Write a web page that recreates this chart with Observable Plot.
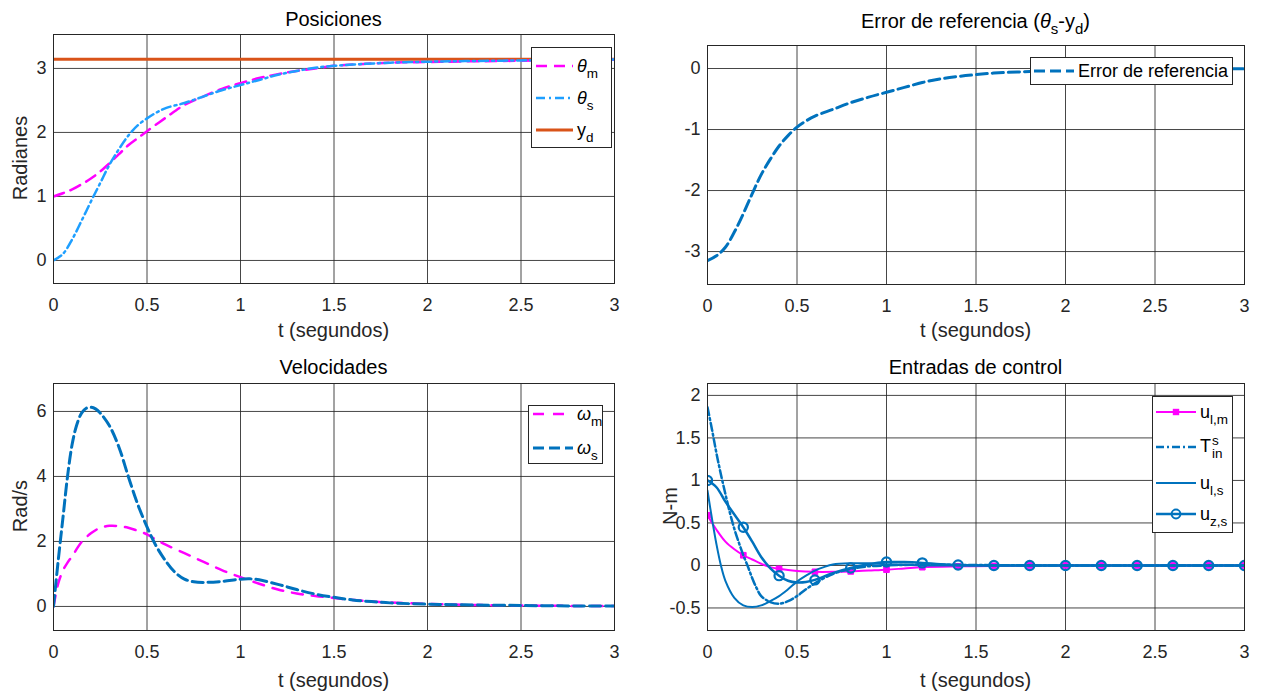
<!DOCTYPE html>
<html>
<head>
<meta charset="utf-8">
<script src="https://cdn.jsdelivr.net/npm/d3@7"></script>
<script src="https://cdn.jsdelivr.net/npm/@observablehq/plot@0.6"></script>
<style>
  html, body { margin: 0; padding: 0; background: #fff; }
  #root { position: relative; width: 1261px; height: 694px; background: #fff;
          font-family: 'Liberation Sans', Arial, Helvetica, sans-serif; color: #262626; overflow: hidden; }
  .abs { position: absolute; white-space: nowrap; }
  .title { font-size: 20px; color: #000; transform: translate(-50%, -50%); }
  .xlab { font-size: 20px; color: #262626; transform: translate(-50%, -50%); }
  .ylab { font-size: 20px; color: #262626; transform: translate(-50%, -50%) rotate(-90deg); }
  .leg { position: absolute; background: #fff; border: 1px solid #262626; box-sizing: border-box; }
  .item { position: absolute; display: flex; align-items: center; font-size: 18px; color: #000; }
  sub { font-size: 75%; vertical-align: -0.45em; line-height: 0; }
  .th { font-style: italic; }
  .stack { display: inline-flex; flex-direction: column; font-size: 75%; line-height: 1; vertical-align: middle; margin-left: 1px; }
</style>
</head>
<body>
<div id="root"></div>
<script>
// ---------- data ----------
const xTicks = [0, 0.5, 1, 1.5, 2, 2.5, 3];

// Posiciones
const tThetaM = [0,0.05,0.1,0.15,0.2,0.25,0.3,0.35,0.4,0.45,0.5,0.6,0.7,0.8,0.9,1.0,1.1,1.2,1.3,1.4,1.5,1.6,1.8,2.0,2.2,2.5,2.8,3.0];
const thetaMVals = [1.00,1.05,1.11,1.19,1.28,1.39,1.52,1.66,1.80,1.91,2.02,2.23,2.43,2.56,2.68,2.77,2.85,2.91,2.96,3.00,3.04,3.06,3.09,3.10,3.11,3.12,3.13,3.135];
const tThetaS = [0,0.05,0.1,0.15,0.2,0.25,0.3,0.35,0.4,0.45,0.5,0.55,0.6,0.7,0.8,0.9,1.0,1.1,1.2,1.3,1.4,1.5,1.6,1.8,2.0,2.2,2.5,2.8,3.0];
const thetaSVals = [0,0.10,0.33,0.62,0.92,1.21,1.50,1.74,1.95,2.11,2.22,2.31,2.38,2.46,2.56,2.66,2.74,2.82,2.90,2.96,3.01,3.04,3.06,3.09,3.105,3.115,3.125,3.135,3.14];
const tYd = [0, 3];
const ydVals = [3.1416, 3.1416];
const posYTicks = [0, 1, 2, 3];

// Error de referencia
const tErr = [0,0.05,0.1,0.15,0.2,0.25,0.3,0.35,0.4,0.45,0.5,0.55,0.6,0.7,0.8,0.9,1.0,1.1,1.2,1.3,1.4,1.5,1.6,1.8,2.0,2.2,2.5,2.8,3.0];
const errVals = [-3.15,-3.07,-2.93,-2.68,-2.38,-2.05,-1.74,-1.49,-1.27,-1.10,-0.96,-0.86,-0.78,-0.67,-0.56,-0.47,-0.39,-0.31,-0.23,-0.17,-0.13,-0.10,-0.075,-0.05,-0.035,-0.025,-0.015,-0.008,-0.005];
const errYTicks = [-3, -2, -1, 0];

// Velocidades
const tOmegaM = [0,0.025,0.05,0.075,0.1,0.15,0.2,0.25,0.3,0.35,0.4,0.45,0.5,0.55,0.6,0.7,0.8,0.9,1.0,1.1,1.2,1.3,1.4,1.5,1.6,1.7,1.8,2.0,2.2,2.5,2.8,3.0];
const omegaMVals = [0,0.70,1.10,1.35,1.55,1.98,2.25,2.42,2.48,2.47,2.42,2.33,2.22,2.05,1.90,1.64,1.38,1.12,0.90,0.70,0.52,0.40,0.32,0.26,0.20,0.15,0.12,0.08,0.05,0.03,0.015,0.01];
const tOmegaS = [0,0.025,0.05,0.075,0.1,0.125,0.15,0.175,0.2,0.225,0.25,0.3,0.35,0.4,0.45,0.5,0.55,0.6,0.65,0.7,0.75,0.8,0.9,1.0,1.05,1.1,1.2,1.3,1.4,1.5,1.6,1.7,1.8,2.0,2.2,2.5,2.8,3.0];
const omegaSVals = [0,1.4,2.7,4.0,5.0,5.6,5.95,6.1,6.13,6.08,5.95,5.55,4.9,4.0,3.15,2.45,1.85,1.40,1.05,0.84,0.76,0.74,0.77,0.84,0.85,0.82,0.68,0.52,0.38,0.28,0.20,0.15,0.11,0.07,0.05,0.03,0.015,0.01];
const velYTicks = [0, 2, 4, 6];

// Entradas de control
const tUlm = [0,0.05,0.1,0.15,0.2,0.25,0.3,0.35,0.4,0.5,0.6,0.7,0.8,0.9,1.0,1.1,1.2,1.4,1.6,2.0,3.0];
const ulmVals = [0.59,0.42,0.28,0.19,0.12,0.07,0.02,-0.02,-0.04,-0.065,-0.075,-0.075,-0.07,-0.06,-0.05,-0.035,-0.02,-0.01,-0.005,0,0];
const tTin = [0,0.025,0.05,0.075,0.1,0.125,0.15,0.175,0.2,0.225,0.25,0.275,0.3,0.35,0.4,0.45,0.5,0.55,0.6,0.65,0.7,0.8,0.9,1.0,1.2,1.5,2.0,3.0];
const tinVals = [1.86,1.60,1.32,1.07,0.84,0.62,0.43,0.27,0.12,-0.01,-0.15,-0.27,-0.36,-0.43,-0.45,-0.42,-0.36,-0.28,-0.21,-0.15,-0.10,-0.04,-0.01,0.0,0.01,0.005,0,0];
const tUls = [0,0.025,0.05,0.075,0.1,0.15,0.2,0.25,0.3,0.35,0.4,0.45,0.5,0.55,0.6,0.65,0.7,0.8,0.9,1.0,1.1,1.2,1.5,3.0];
const ulsVals = [0.88,0.55,0.25,0.0,-0.18,-0.38,-0.47,-0.49,-0.47,-0.42,-0.36,-0.28,-0.19,-0.12,-0.06,-0.02,0.01,0.025,0.025,0.015,0.01,0.0,0,0];
const tUzs = [0,0.05,0.1,0.15,0.2,0.25,0.3,0.35,0.4,0.45,0.5,0.55,0.6,0.7,0.8,0.9,1.0,1.1,1.2,1.3,1.4,1.6,3.0];
const uzsVals = [1.0,0.92,0.75,0.60,0.45,0.28,0.10,-0.03,-0.12,-0.18,-0.20,-0.195,-0.17,-0.09,-0.03,0.015,0.04,0.04,0.03,0.015,0.005,0,0];
const tMarkers = [0,0.2,0.4,0.6,0.8,1.0,1.2,1.4,1.6,1.8,2.0,2.2,2.4,2.6,2.8,3.0];
const ulmMarkerVals = [0.59,0.12,-0.04,-0.075,-0.07,-0.05,-0.02,-0.01,-0.005,0,0,0,0,0,0,0];
const uzsMarkerVals = [1.0,0.45,-0.12,-0.17,-0.03,0.04,0.03,0.005,0,0,0,0,0,0,0,0];
const ctrlYTicks = [-0.5, 0, 0.5, 1, 1.5, 2];

// ---------- colours ----------
const MAG = "#FF00FF", LBLUE = "#1E9FFF", BLUE = "#0072BD", ORANGE = "#D95319";
const FONT = "'Liberation Sans', Arial, Helvetica, sans-serif";

const zip = (ts, vs) => ts.map((t, i) => ({t, v: vs[i]}));
const root = document.getElementById("root");

function panel(cfg) {
  const {L, T, W, H, fx0, fy0, fx1, fy1, yDomain, yTicks, marks} = cfg;
  const chart = Plot.plot({
    width: W, height: H,
    marginLeft: fx0 - L, marginRight: L + W - fx1,
    marginTop: fy0 - T, marginBottom: T + H - fy1,
    x: {domain: [0, 3]},
    y: {domain: yDomain},
    style: {fontFamily: FONT, fontSize: "18px", background: "transparent", color: "#262626", overflow: "visible"},
    marks: [
      Plot.ruleX(xTicks, {stroke: "#262626", strokeOpacity: 0.85, strokeWidth: 1}),
      Plot.ruleY(yTicks, {stroke: "#262626", strokeOpacity: 0.85, strokeWidth: 1}),
      ...marks,
      Plot.frame({stroke: "#262626", strokeWidth: 1}),
      Plot.axisX(xTicks, {tickSize: 0, tickPadding: 15, tickFormat: d => String(d), label: null, fill: "#262626", fontSize: 18}),
      Plot.axisY(yTicks, {tickSize: 0, tickPadding: 7, tickFormat: d => String(d), label: null, fill: "#262626", fontSize: 18})
    ]
  });
  chart.style.position = "absolute";
  chart.style.left = L + "px";
  chart.style.top = T + "px";
  root.appendChild(chart);
}

function line(ts, vs, stroke, width, dash, curve = "catmull-rom") {
  return Plot.line(zip(ts, vs), {x: "t", y: "v", stroke, strokeWidth: width, strokeDasharray: dash, curve, clip: true});
}

// Panel A: Posiciones
panel({L: 0, T: 0, W: 640, H: 345, fx0: 53, fy0: 34, fx1: 614, fy1: 283,
  yDomain: [-0.36, 3.53], yTicks: posYTicks,
  marks: [
    line(tYd, ydVals, ORANGE, 3, null, "linear"),
    line(tThetaM, thetaMVals, MAG, 2.5, "11,7"),
    line(tThetaS, thetaSVals, LBLUE, 2.5, "9,4,2,4")
  ]});

// Panel B: Error de referencia
panel({L: 640, T: 0, W: 621, H: 345, fx0: 707, fy0: 45, fx1: 1244, fy1: 284,
  yDomain: [-3.54, 0.377], yTicks: errYTicks,
  marks: [ line(tErr, errVals, BLUE, 3, "11,5") ]});

// Panel C: Velocidades
panel({L: 0, T: 345, W: 640, H: 349, fx0: 53, fy0: 383, fx1: 614, fy1: 630,
  yDomain: [-0.74, 6.86], yTicks: velYTicks,
  marks: [
    line(tOmegaM, omegaMVals, MAG, 2.5, "11,9"),
    line(tOmegaS, omegaSVals, BLUE, 3, "11,5")
  ]});

// Panel D: Entradas de control
panel({L: 640, T: 345, W: 621, H: 349, fx0: 707, fy0: 383, fx1: 1244, fy1: 630,
  yDomain: [-0.765, 2.14], yTicks: ctrlYTicks,
  marks: [
    line(tUlm, ulmVals, MAG, 2),
    Plot.dot(zip(tMarkers, ulmMarkerVals), {x: "t", y: "v", symbol: "square", r: 3.2, fill: MAG, stroke: MAG, strokeWidth: 1, clip: true}),
    line(tTin, tinVals, BLUE, 2.5, "8,3,2,3"),
    line(tUls, ulsVals, BLUE, 2),
    line(tUzs, uzsVals, BLUE, 2.5),
    Plot.dot(zip(tMarkers, uzsMarkerVals), {x: "t", y: "v", symbol: "circle", r: 4.6, fill: "none", stroke: BLUE, strokeWidth: 2.2, clip: true})
  ]});

// ---------- text ----------
function addText(cls, html, x, y) {
  const d = document.createElement("div");
  d.className = "abs " + cls;
  d.style.left = x + "px"; d.style.top = y + "px";
  d.innerHTML = html;
  root.appendChild(d);
}
addText("title", "Posiciones", 333.5, 19);
addText("title", "Error de referencia (<span class='th'>θ</span><sub>s</sub>-y<sub>d</sub>)", 975.5, 21);
addText("title", "Velocidades", 333.5, 367);
addText("title", "Entradas de control", 975.5, 367);
addText("xlab", "t (segundos)", 333.5, 330);
addText("xlab", "t (segundos)", 975.5, 330);
addText("xlab", "t (segundos)", 333.5, 680);
addText("xlab", "t (segundos)", 975.5, 680);
addText("ylab", "Radianes", 20, 158);
addText("ylab", "Rad/s", 20, 506);
addText("ylab", "N-m", 670, 506);

// ---------- legends ----------
function swatch(w, color, width, dash, marker) {
  let s = `<svg width="${w}" height="14" style="display:block;overflow:visible">` +
    `<line x1="0" y1="7" x2="${w}" y2="7" stroke="${color}" stroke-width="${width}" ${dash ? `stroke-dasharray="${dash}"` : ""}/>`;
  if (marker === "square") s += `<rect x="${w/2-3.2}" y="3.8" width="6.4" height="6.4" fill="${color}"/>`;
  if (marker === "circle") s += `<circle cx="${w/2}" cy="7" r="4.4" fill="none" stroke="${color}" stroke-width="2"/>`;
  return s + "</svg>";
}
function legend(box, items) {
  const lg = document.createElement("div");
  lg.className = "leg";
  Object.assign(lg.style, {left: box[0] + "px", top: box[1] + "px", width: box[2] + "px", height: box[3] + "px"});
  items.forEach(it => {
    const d = document.createElement("div");
    d.className = "item";
    d.style.left = it.x + "px"; d.style.top = (it.y - 11) + "px"; d.style.height = "22px";
    d.innerHTML = swatch(it.w, it.color, it.width, it.dash, it.marker) + `<span style="margin-left:4px">${it.label}</span>`;
    lg.appendChild(d);
  });
  root.appendChild(lg);
}
legend([531, 47, 81, 101], [
  {x: 4, y: 18, w: 37, color: MAG, width: 2.5, dash: "11,7", label: "<span class='th'>θ</span><sub>m</sub>"},
  {x: 4, y: 50, w: 37, color: LBLUE, width: 2.5, dash: "9,4,2,4", label: "<span class='th'>θ</span><sub>s</sub>"},
  {x: 4, y: 82, w: 37, color: ORANGE, width: 3, dash: null, label: "y<sub>d</sub>"}
]);
legend([1030, 57, 203, 28], [
  {x: 3, y: 13, w: 40, color: BLUE, width: 3, dash: "11,5", label: "Error de referencia"}
]);
legend([528, 405, 75, 59], [
  {x: 4, y: 8, w: 40, color: MAG, width: 2.5, dash: "11,9", label: "<span class='th'>ω</span><sub>m</sub>"},
  {x: 4, y: 42, w: 40, color: BLUE, width: 3, dash: "11,5", label: "<span class='th'>ω</span><sub>s</sub>"}
]);
legend([1152, 396, 81, 137], [
  {x: 3, y: 15, w: 40, color: MAG, width: 2, dash: null, marker: "square", label: "u<sub>l,m</sub>"},
  {x: 3, y: 50, w: 40, color: BLUE, width: 2.5, dash: "8,3,2,3", label: "T<span class='stack'><span>s</span><span>in</span></span>"},
  {x: 3, y: 86, w: 40, color: BLUE, width: 2, dash: null, label: "u<sub>l,s</sub>"},
  {x: 3, y: 117, w: 40, color: BLUE, width: 2.5, dash: null, marker: "circle", label: "u<sub>z,s</sub>"}
]);
</script>
</body>
</html>
